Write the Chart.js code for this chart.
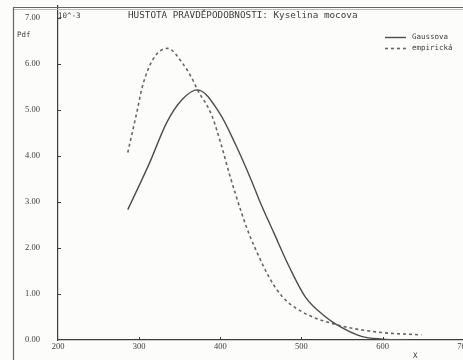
<!DOCTYPE html>
<html>
<head>
<meta charset="utf-8">
<script src="https://cdn.jsdelivr.net/npm/chart.js@4.4.1/dist/chart.umd.min.js"></script>
<style>
  html, body { margin: 0; padding: 0; background: #fcfcfa; overflow: hidden; }
  #wrap { width: 472px; height: 360px; }
</style>
</head>
<body>
<div id="wrap"><canvas id="chart" width="472" height="360"></canvas></div>
<script>
// values (y in units of 10^-3)
const gaussX = [286, 300, 313, 334, 353, 372, 399, 420, 438, 448, 466, 485, 505, 530, 544, 574, 600, 632];
const gaussY = [2.83, 3.35, 3.85, 4.72, 5.22, 5.43, 4.93, 4.20, 3.48, 3.04, 2.33, 1.59, 0.93, 0.50, 0.33, 0.08, 0.02, 0.00];
const empX = [286, 297, 304, 317, 335, 353, 366, 372, 389, 401, 411, 427, 436, 448, 460, 476, 501, 544, 595, 648];
const empY = [4.07, 4.93, 5.50, 6.09, 6.33, 6.02, 5.65, 5.43, 4.90, 4.25, 3.62, 2.72, 2.28, 1.80, 1.37, 0.95, 0.61, 0.33, 0.17, 0.11];
const xTicks = [200, 300, 400, 500, 600, 700];
const yTicks = [0, 1, 2, 3, 4, 5, 6, 7];
const seriesNames = ['Gaussova', 'empirická'];

const ink = '#3c3c3c';
const tickFont = { family: 'Liberation Serif', size: 8.5 };
const mono = 'DejaVu Sans Mono';

const toPoints = (xs, ys) => xs.map((x, i) => ({ x: x, y: ys[i] }));

const paper = {
  id: 'paper',
  beforeDraw: (chart) => {
    const { ctx } = chart;
    ctx.save();
    ctx.fillStyle = '#fcfcfa';
    ctx.fillRect(0, 0, chart.width, chart.height);
    ctx.restore();
  },
  afterDraw: (chart) => {
    const { ctx, scales } = chart;
    const xs = scales.x, ys = scales.y;
    ctx.save();
    // page frame
    ctx.strokeStyle = '#666';
    ctx.lineWidth = 1.2;
    ctx.beginPath();
    ctx.moveTo(13.5, 360); ctx.lineTo(13.5, 7.5); ctx.lineTo(472, 7.5);
    ctx.stroke();
    ctx.strokeStyle = '#bbb';
    ctx.lineWidth = 1;
    ctx.beginPath();
    ctx.moveTo(14, 9.5); ctx.lineTo(472, 9.5);
    ctx.stroke();

    // inward tick marks
    ctx.strokeStyle = ink;
    ctx.lineWidth = 1;
    ctx.beginPath();
    xTicks.slice(1).forEach(v => {
      const px = Math.round(xs.getPixelForValue(v)) + 0.5;
      ctx.moveTo(px, xs.top); ctx.lineTo(px, xs.top - 3);
    });
    yTicks.slice(1).forEach(v => {
      const py = Math.round(ys.getPixelForValue(v)) + 0.5;
      ctx.moveTo(ys.right, py); ctx.lineTo(ys.right + 3, py);
    });
    ctx.stroke();

    // texts
    ctx.fillStyle = ink;
    ctx.textBaseline = 'middle';
    ctx.textAlign = 'left';
    ctx.font = '9.3px "' + mono + '"';
    ctx.fillText('HUSTOTA PRAVDĚPODOBNOSTI: Kyselina mocova', 128, 16);
    ctx.font = '7.5px "' + mono + '"';
    ctx.fillText('10^-3', 58, 16);
    ctx.fillText('Pdf', 17, 35);
    ctx.fillText('X', 413, 356);

    // legend
    const ds = chart.data.datasets;
    [37, 48].forEach((y, i) => {
      ctx.strokeStyle = ds[i].borderColor;
      ctx.lineWidth = ds[i].borderWidth;
      ctx.setLineDash(ds[i].borderDash || []);
      ctx.beginPath();
      ctx.moveTo(385, y + 0.5); ctx.lineTo(406, y + 0.5);
      ctx.stroke();
      ctx.setLineDash([]);
      ctx.fillText(seriesNames[i], 412, y);
    });
    ctx.restore();
  }
};

new Chart(document.getElementById('chart'), {
  type: 'line',
  data: {
    datasets: [
      {
        label: seriesNames[0],
        data: toPoints(gaussX, gaussY),
        borderColor: '#4d4d4d',
        borderWidth: 1.4,
        pointRadius: 0,
        cubicInterpolationMode: 'monotone'
      },
      {
        label: seriesNames[1],
        data: toPoints(empX, empY),
        borderColor: '#666',
        borderWidth: 1.6,
        borderDash: [3, 3],
        pointRadius: 0,
        cubicInterpolationMode: 'monotone'
      }
    ]
  },
  options: {
    responsive: false,
    animation: false,
    layout: { autoPadding: false, padding: { left: 25, right: 7, top: 6, bottom: 0 } },
    plugins: { legend: { display: false }, tooltip: { enabled: false } },
    scales: {
      x: {
        type: 'linear',
        min: 200, max: 700,
        afterBuildTicks: s => { s.ticks = xTicks.map(v => ({ value: v })); },
        afterFit: s => { s.height = 20; },
        grid: { display: false, drawTicks: false },
        border: { color: ink, width: 1.2 },
        ticks: { font: tickFont, color: ink, padding: 2, maxRotation: 0, callback: v => String(v) }
      },
      y: {
        min: 0, max: 7.25,
        afterBuildTicks: s => { s.ticks = yTicks.map(v => ({ value: v })); },
        afterFit: s => { s.width = 33; },
        grid: { display: false, drawTicks: false },
        border: { color: ink, width: 1.2 },
        ticks: { font: tickFont, color: ink, padding: 0, crossAlign: 'far', callback: v => v.toFixed(2) }
      }
    }
  },
  plugins: [paper]
});
</script>
</body>
</html>
